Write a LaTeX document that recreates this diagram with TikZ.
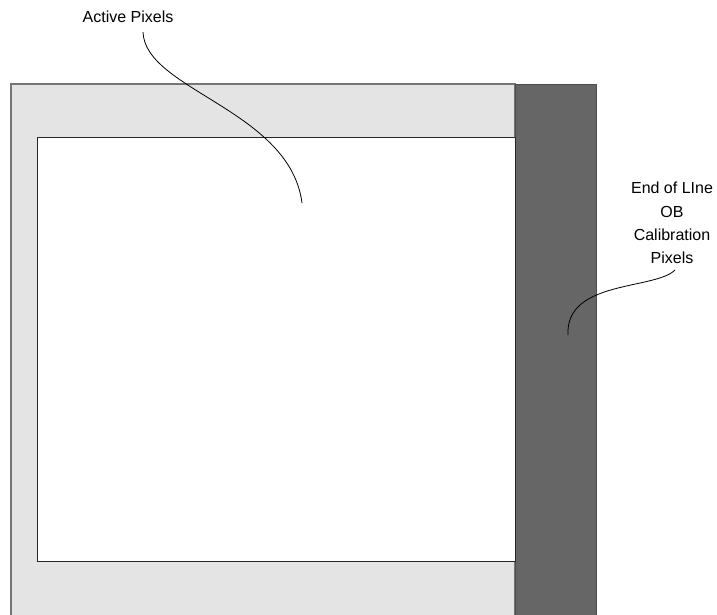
\documentclass[tikz,border=0pt]{standalone}
\usepackage{fontspec}
\setmainfont{Liberation Sans}
\usepackage{tikz}
\usetikzlibrary{positioning}

\definecolor{frameGray}{HTML}{E4E4E4}
\definecolor{obGray}{HTML}{666666}

\begin{document}
\begin{tikzpicture}[x=0.75pt, y=-0.75pt,
  label/.style={font=\fontsize{12}{17.5}\selectfont, align=center, inner sep=0pt},
  leader/.style={black, line width=0.6pt},
  frame/.style={fill=frameGray, draw=obGray!90, line width=1pt},
  obstrip/.style={fill=obGray, draw=black!70, line width=0.6pt},
  active/.style={fill=white, draw=black!85, line width=0.6pt}
]
  \useasboundingbox (0,0) rectangle (717,614);
  \clip (0,0) rectangle (717,614);

  % sensor array
  \draw[frame]   (11,84) rectangle (515,640);
  \draw[obstrip] (515,84) rectangle (596,640);
  \draw[active]  (37,137) rectangle (515,561);

  % labels
  \node[label] (activelbl) at (128,17)  {Active Pixels};
  \node[label] (oblbl)     at (672,223) {End of LIne\\OB\\Calibration\\Pixels};

  \coordinate (activetop) at (143,32);
  \coordinate (activeend) at (302,203);
  \coordinate (obtop)     at (675,270);
  \coordinate (obend)     at (568,335);

  \draw[leader] (activetop) .. controls (145,90) and (290,110) .. (activeend);
  \draw[leader] (obtop) .. controls (655,290) and (565,280) .. (obend);
\end{tikzpicture}
\end{document}
